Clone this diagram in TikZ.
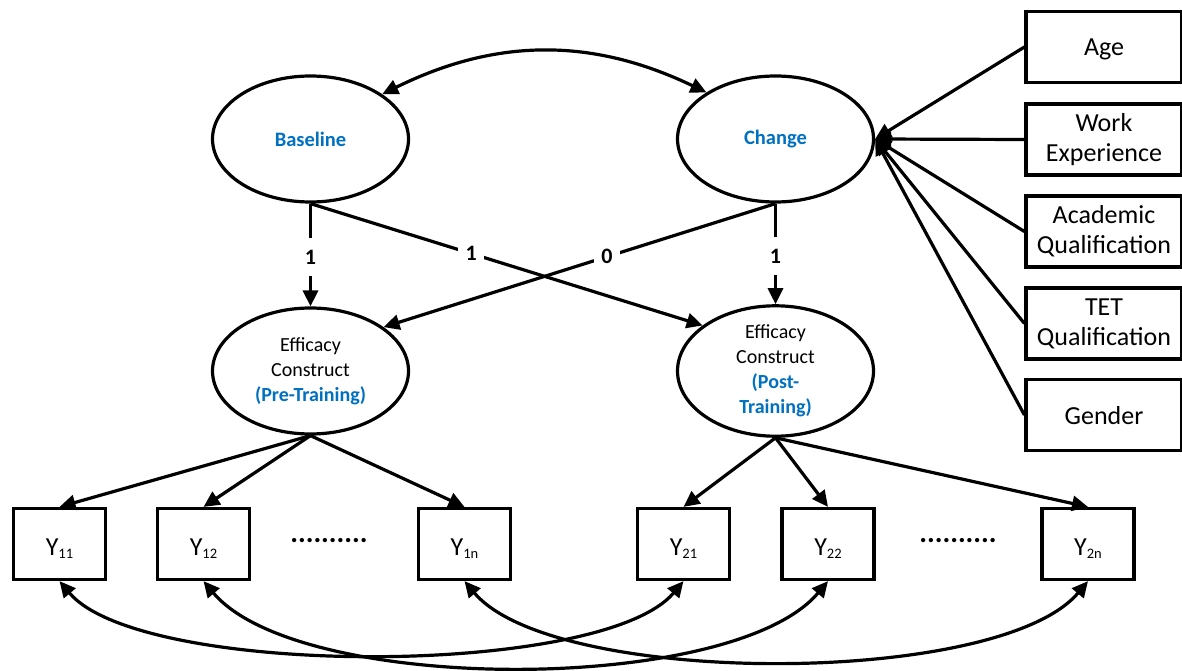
\documentclass[tikz,border=0pt]{standalone}
\usepackage{fontspec}
\setmainfont{Carlito}
\usetikzlibrary{arrows.meta,shapes.geometric}
\definecolor{latentblue}{RGB}{0,112,192}
\newcommand{\ysub}[2]{#1\raisebox{-3pt}{\fontsize{14.5}{14.5}\selectfont #2}}
\begin{document}
\begin{tikzpicture}[x=1pt,y=1pt,
  tip/.tip={Triangle[length=16pt,width=15pt]},
  latent/.style={ellipse, draw, line width=3.2pt, minimum width=196pt,
    minimum height=126pt, inner sep=0pt, align=center,
    font=\fontsize{20}{25}\selectfont},
  factorname/.style={latent, text=latentblue, font=\bfseries\fontsize{20.5}{25}\selectfont},
  indicator/.style={rectangle, draw, line width=3.2pt, minimum width=92pt,
    minimum height=71pt, inner sep=0pt, font=\fontsize{26}{30}\selectfont,
    text height=22pt, text depth=0pt},
  covariate/.style={rectangle, draw, line width=3.2pt, minimum width=156pt,
    minimum height=71pt, inner sep=0pt, align=center,
    font=\fontsize{26}{30}\selectfont},
  oneline/.style={text depth=0pt},
  regpath/.style={line width=3.2pt, -tip},
  twoway/.style={line width=3.2pt, tip-tip},
  coef/.style={fill=white, font=\bfseries\fontsize{22}{24}\selectfont,
    minimum width=26pt, minimum height=38pt, inner sep=0pt},
  ellipsis/.style={anchor=base, inner sep=0pt, font=\bfseries\fontsize{29}{29}\selectfont}]
\useasboundingbox (0,0) rectangle (1182,-671);

% growth factors
\node[factorname] (base)   at (310.5,-139) {Baseline};
\node[factorname] (change) at (775.5,-139) {Change};

% latent constructs at the two occasions
\node[latent] (pre)  at (310.5,-371) {Efficacy\\Construct\\{\bfseries\color{latentblue}(Pre-Training)}};
\node[latent] (post) at (775.5,-371) {Efficacy\\Construct\\{\bfseries\color{latentblue}(Post-}\\{\bfseries\color{latentblue}Training)}};

% indicators
\node[indicator] (y11) at (59.5,-544)  {\ysub{Y}{11}};
\node[indicator] (y12) at (203.5,-544) {\ysub{Y}{12}};
\node[indicator] (y1n) at (464.5,-544) {\ysub{Y}{1n}};
\node[indicator] (y21) at (683.5,-544) {\ysub{Y}{21}};
\node[indicator] (y22) at (828,-544)   {\ysub{Y}{22}};
\node[indicator] (y2n) at (1088,-544)  {\ysub{Y}{2n}};
\node[ellipsis] (dotsa) at (329,-542) {..........};
\node[ellipsis] (dotsb) at (958,-542) {..........};

% covariates
\node[covariate,oneline] (age)    at (1104,-47)    {Age};
\node[covariate] (work)   at (1104,-139.5) {Work\\Experience};
\node[covariate] (acad)   at (1104,-231.5) {Academic\\Qualification};
\node[covariate] (tet)    at (1104,-323.5) {TET\\Qualification};
\node[covariate,oneline] (gender) at (1104,-415)   {Gender};

% factor covariance
\draw[twoway] (base.32) to[bend left=26] (change.146);

% loadings of the growth factors
\draw[regpath] (base.south) -- node[coef,pos=0.52] {1} (pre.north);
\draw[regpath] (change.south) -- node[coef,pos=0.52] {1} (post.north);
\draw[regpath] (base.south) -- node[coef,pos=0.41] {1} (post.148);
\draw[regpath] (change.south) -- node[coef,pos=0.43] {0} (pre.31);

% measurement paths
\foreach \y in {y11,y12,y1n} \draw[regpath] (pre.south) -- (\y.north);
\foreach \y in {y21,y22,y2n} \draw[regpath] (post.south) -- (\y.north);

% covariate effects on change
\foreach \c in {age,work,acad,tet,gender} \draw[regpath] (\c.west) -- (change.east);

% correlated residuals across occasions
\draw[twoway] (y11.south) to[out=-50,in=-130,looseness=0.52] (y21.south);
\draw[twoway] (y12.south) to[out=-50,in=-130,looseness=0.61] (y22.south);
\draw[twoway] (y1n.south) to[out=-50,in=-130,looseness=0.57] (y2n.south);
\end{tikzpicture}
\end{document}
